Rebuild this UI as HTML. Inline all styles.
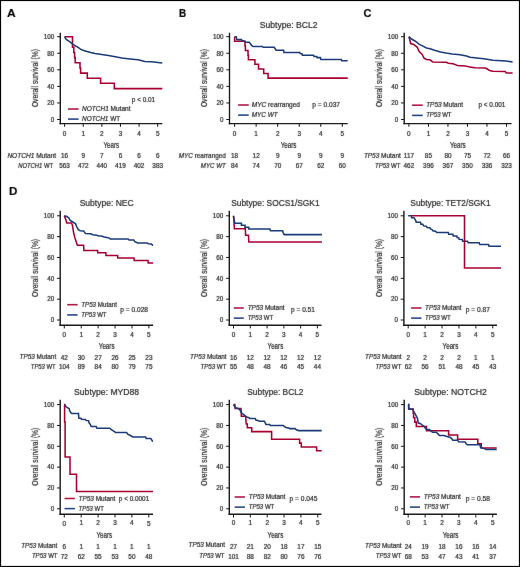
<!DOCTYPE html>
<html><head><meta charset="utf-8"><style>
html,body{margin:0;padding:0;background:#fff;}
body{width:520px;height:567px;overflow:hidden;}
svg{display:block;font-family:"Liberation Sans", sans-serif;fill:#262626;} text{stroke:#262626;stroke-width:0.2;}
</style></head><body>
<svg width="520" height="567" viewBox="0 0 520 567">
<defs><filter id="b" filterUnits="userSpaceOnUse" x="0" y="0" width="520" height="567"><feConvolveMatrix order="3" kernelMatrix="0.0000 0.0000 0.0000 0.0000 1.0000 0.0000 0.0000 0.0000 0.0000" preserveAlpha="false"/></filter><filter id="t" filterUnits="userSpaceOnUse" x="0" y="0" width="520" height="567"><feConvolveMatrix order="3" kernelMatrix="0.0150 0.0350 0.0150 0.0350 0.8000 0.0350 0.0150 0.0350 0.0150" preserveAlpha="false"/></filter></defs>
<rect x="0" y="0" width="520" height="567" fill="#fff"/>
<g filter="url(#b)">
<line x1="60.3" y1="32.8" x2="60.3" y2="124.3" stroke="#1a1a1a" stroke-width="1.4"/>
<line x1="59.6" y1="123.6" x2="162.3" y2="123.6" stroke="#1a1a1a" stroke-width="1.4"/>
<line x1="57.1" y1="119.5" x2="60.3" y2="119.5" stroke="#1a1a1a" stroke-width="1.0"/>
<line x1="57.1" y1="102.94" x2="60.3" y2="102.94" stroke="#1a1a1a" stroke-width="1.0"/>
<line x1="57.1" y1="86.38" x2="60.3" y2="86.38" stroke="#1a1a1a" stroke-width="1.0"/>
<line x1="57.1" y1="69.82" x2="60.3" y2="69.82" stroke="#1a1a1a" stroke-width="1.0"/>
<line x1="57.1" y1="53.26" x2="60.3" y2="53.26" stroke="#1a1a1a" stroke-width="1.0"/>
<line x1="57.1" y1="36.7" x2="60.3" y2="36.7" stroke="#1a1a1a" stroke-width="1.0"/>
<line x1="64.6" y1="123.6" x2="64.6" y2="126.8" stroke="#1a1a1a" stroke-width="1.0"/>
<line x1="83.22" y1="123.6" x2="83.22" y2="126.8" stroke="#1a1a1a" stroke-width="1.0"/>
<line x1="101.84" y1="123.6" x2="101.84" y2="126.8" stroke="#1a1a1a" stroke-width="1.0"/>
<line x1="120.46" y1="123.6" x2="120.46" y2="126.8" stroke="#1a1a1a" stroke-width="1.0"/>
<line x1="139.08" y1="123.6" x2="139.08" y2="126.8" stroke="#1a1a1a" stroke-width="1.0"/>
<line x1="157.7" y1="123.6" x2="157.7" y2="126.8" stroke="#1a1a1a" stroke-width="1.0"/>
<path d="M64.6 36.7 L72.5 36.7 L72.5 47.1 L73.8 47.1 L73.8 52.4 L74.6 52.4 L74.6 57.6 L75.2 57.6 L75.2 62.8 L80 62.8 L80 67.9 L80.6 67.9 L80.6 73.1 L87.3 73.1 L87.3 78.3 L100.6 78.3 L100.6 83.3 L114.3 83.3 L114.3 88.6 L162.3 88.6" stroke="#a80631" stroke-width="1.55" fill="none" stroke-linejoin="miter" stroke-linecap="butt"/>
<path d="M64.6 36.7 L65.2 37.8 L66.2 39.4 L67.7 40.4 L70 41.9 L72.3 43.8 L75.4 45.8 L78.5 47.7 L80.8 49.4 L83 50.3 L87 51.5 L90.8 52.6 L95 53.5 L101.7 54.4 L108.5 55.5 L115.2 56.8 L121.9 58.1 L130 58.9 L138.1 59.8 L144.8 61.4 L151.5 61.8 L162.3 63" stroke="#1b3a7a" stroke-width="1.55" fill="none" stroke-linejoin="miter" stroke-linecap="butt"/>
<line x1="68" y1="109" x2="78.6" y2="109" stroke="#b31a45" stroke-width="1.6"/>
<line x1="68" y1="119.1" x2="78.6" y2="119.1" stroke="#284a8c" stroke-width="1.6"/>
<line x1="229.5" y1="32.8" x2="229.5" y2="124.3" stroke="#1a1a1a" stroke-width="1.4"/>
<line x1="228.8" y1="123.6" x2="347.7" y2="123.6" stroke="#1a1a1a" stroke-width="1.4"/>
<line x1="226.3" y1="119.5" x2="229.5" y2="119.5" stroke="#1a1a1a" stroke-width="1.0"/>
<line x1="226.3" y1="102.94" x2="229.5" y2="102.94" stroke="#1a1a1a" stroke-width="1.0"/>
<line x1="226.3" y1="86.38" x2="229.5" y2="86.38" stroke="#1a1a1a" stroke-width="1.0"/>
<line x1="226.3" y1="69.82" x2="229.5" y2="69.82" stroke="#1a1a1a" stroke-width="1.0"/>
<line x1="226.3" y1="53.26" x2="229.5" y2="53.26" stroke="#1a1a1a" stroke-width="1.0"/>
<line x1="226.3" y1="36.7" x2="229.5" y2="36.7" stroke="#1a1a1a" stroke-width="1.0"/>
<line x1="234.6" y1="123.6" x2="234.6" y2="126.8" stroke="#1a1a1a" stroke-width="1.0"/>
<line x1="256.14" y1="123.6" x2="256.14" y2="126.8" stroke="#1a1a1a" stroke-width="1.0"/>
<line x1="277.68" y1="123.6" x2="277.68" y2="126.8" stroke="#1a1a1a" stroke-width="1.0"/>
<line x1="299.22" y1="123.6" x2="299.22" y2="126.8" stroke="#1a1a1a" stroke-width="1.0"/>
<line x1="320.76" y1="123.6" x2="320.76" y2="126.8" stroke="#1a1a1a" stroke-width="1.0"/>
<line x1="342.3" y1="123.6" x2="342.3" y2="126.8" stroke="#1a1a1a" stroke-width="1.0"/>
<path d="M234.6 36.7 L234.6 36.7 L234.6 41.3 L245 41.3 L245 45.9 L245.4 45.9 L245.4 50.5 L248 50.5 L248 55.1 L248.4 55.1 L248.4 59.7 L254.9 59.7 L254.9 64.3 L258.5 64.3 L258.5 68.9 L263.7 68.9 L263.7 73.5 L268.1 73.5 L268.1 78.1 L347.7 78.1" stroke="#a80631" stroke-width="1.55" fill="none" stroke-linejoin="miter" stroke-linecap="butt"/>
<path d="M234.6 36.7 L236.3 36.7 L236.6 39.4 L237.5 39.6 L241.5 39.6 L242 40.4 L244.4 41.1 L245.9 42.3 L249.2 42.3 L250.2 43.5 L251.6 45.4 L253.1 46.5 L262.2 46.5 L263.2 47.3 L274.2 47.3 L275.2 48.8 L276.2 50.3 L283.6 50.3 L284 52.4 L299.8 52.4 L300.2 53.6 L302 53.8 L302.4 55.2 L313.6 55.2 L314 56.4 L316.8 56.4 L317.2 57.6 L320.4 57.6 L320.8 59.4 L341.3 59.4 L341.7 60.7 L347.7 60.7" stroke="#1b3a7a" stroke-width="1.55" fill="none" stroke-linejoin="miter" stroke-linecap="butt"/>
<line x1="238.1" y1="105" x2="248.75" y2="105" stroke="#b31a45" stroke-width="1.6"/>
<line x1="238.1" y1="115.1" x2="248.75" y2="115.1" stroke="#284a8c" stroke-width="1.6"/>
<line x1="404.2" y1="32.8" x2="404.2" y2="124.3" stroke="#1a1a1a" stroke-width="1.4"/>
<line x1="403.5" y1="123.6" x2="511.5" y2="123.6" stroke="#1a1a1a" stroke-width="1.4"/>
<line x1="401" y1="119.5" x2="404.2" y2="119.5" stroke="#1a1a1a" stroke-width="1.0"/>
<line x1="401" y1="102.94" x2="404.2" y2="102.94" stroke="#1a1a1a" stroke-width="1.0"/>
<line x1="401" y1="86.38" x2="404.2" y2="86.38" stroke="#1a1a1a" stroke-width="1.0"/>
<line x1="401" y1="69.82" x2="404.2" y2="69.82" stroke="#1a1a1a" stroke-width="1.0"/>
<line x1="401" y1="53.26" x2="404.2" y2="53.26" stroke="#1a1a1a" stroke-width="1.0"/>
<line x1="401" y1="36.7" x2="404.2" y2="36.7" stroke="#1a1a1a" stroke-width="1.0"/>
<line x1="408.9" y1="123.6" x2="408.9" y2="126.8" stroke="#1a1a1a" stroke-width="1.0"/>
<line x1="428.42" y1="123.6" x2="428.42" y2="126.8" stroke="#1a1a1a" stroke-width="1.0"/>
<line x1="447.94" y1="123.6" x2="447.94" y2="126.8" stroke="#1a1a1a" stroke-width="1.0"/>
<line x1="467.46" y1="123.6" x2="467.46" y2="126.8" stroke="#1a1a1a" stroke-width="1.0"/>
<line x1="486.98" y1="123.6" x2="486.98" y2="126.8" stroke="#1a1a1a" stroke-width="1.0"/>
<line x1="506.5" y1="123.6" x2="506.5" y2="126.8" stroke="#1a1a1a" stroke-width="1.0"/>
<path d="M408.9 36.7 L409.8 39.8 L410.6 43.6 L413.8 44.4 L417.3 47.3 L419 51.3 L422 54.2 L424.2 58.3 L426.5 59.4 L430 59.8 L432.9 62.1 L446.2 62.3 L448.5 63.2 L453 63.7 L455 64.4 L457.3 65.5 L465.4 66 L470 66.9 L474.6 67.8 L485.6 68.1 L489.6 70.4 L493 71.2 L505.2 71.5 L506.3 73 L512.6 73" stroke="#a80631" stroke-width="1.55" fill="none" stroke-linejoin="miter" stroke-linecap="butt"/>
<path d="M408.9 36.7 L411.5 39 L415 41 L419 44.1 L422.5 45.9 L426.5 47.9 L430 48.7 L434.6 50.2 L440.4 51.9 L446.2 53.1 L452 54 L455 54.2 L460 54.8 L466.5 56 L470 57.3 L483.8 58.8 L493 60.2 L505.8 60.9 L512.6 62.1" stroke="#1b3a7a" stroke-width="1.55" fill="none" stroke-linejoin="miter" stroke-linecap="butt"/>
<line x1="412.1" y1="105.2" x2="422.75" y2="105.2" stroke="#b31a45" stroke-width="1.6"/>
<line x1="412.1" y1="115.4" x2="422.75" y2="115.4" stroke="#284a8c" stroke-width="1.6"/>
<line x1="60.2" y1="210.8" x2="60.2" y2="325.9" stroke="#1a1a1a" stroke-width="1.4"/>
<line x1="59.5" y1="325.2" x2="153.1" y2="325.2" stroke="#1a1a1a" stroke-width="1.4"/>
<line x1="57" y1="320" x2="60.2" y2="320" stroke="#1a1a1a" stroke-width="1.0"/>
<line x1="57" y1="299.16" x2="60.2" y2="299.16" stroke="#1a1a1a" stroke-width="1.0"/>
<line x1="57" y1="278.32" x2="60.2" y2="278.32" stroke="#1a1a1a" stroke-width="1.0"/>
<line x1="57" y1="257.48" x2="60.2" y2="257.48" stroke="#1a1a1a" stroke-width="1.0"/>
<line x1="57" y1="236.64" x2="60.2" y2="236.64" stroke="#1a1a1a" stroke-width="1.0"/>
<line x1="57" y1="215.8" x2="60.2" y2="215.8" stroke="#1a1a1a" stroke-width="1.0"/>
<line x1="64.3" y1="325.2" x2="64.3" y2="328.4" stroke="#1a1a1a" stroke-width="1.0"/>
<line x1="81.22" y1="325.2" x2="81.22" y2="328.4" stroke="#1a1a1a" stroke-width="1.0"/>
<line x1="98.14" y1="325.2" x2="98.14" y2="328.4" stroke="#1a1a1a" stroke-width="1.0"/>
<line x1="115.06" y1="325.2" x2="115.06" y2="328.4" stroke="#1a1a1a" stroke-width="1.0"/>
<line x1="131.98" y1="325.2" x2="131.98" y2="328.4" stroke="#1a1a1a" stroke-width="1.0"/>
<line x1="148.9" y1="325.2" x2="148.9" y2="328.4" stroke="#1a1a1a" stroke-width="1.0"/>
<path d="M64.3 215.8 L65.8 219.6 L66.7 223 L71.5 223 L72.5 225.4 L73.5 232.1 L74.9 237.9 L77.3 245.3 L83.6 245.3 L83.9 250.4 L97.6 250.4 L97.8 252.8 L105.8 252.8 L106 255.4 L117.6 255.4 L117.8 258 L134 258 L134.2 260.4 L148 260.4 L148.2 262.9 L153.1 262.9" stroke="#a80631" stroke-width="1.55" fill="none" stroke-linejoin="miter" stroke-linecap="butt"/>
<path d="M64.3 215.8 L65.3 216 L67.2 216.7 L69.1 218.2 L70.1 220.4 L72 221.5 L73.5 222.5 L75.4 223.5 L76.8 226.8 L78.3 229.7 L80.2 230.7 L83.6 231 L85.5 233.6 L90.8 233.8 L92.7 234.8 L96.5 235.2 L98.5 235.8 L102.3 236.2 L104.2 236.9 L106.9 237.5 L109.3 238.1 L110.3 238.9 L128.1 238.9 L129 239.9 L133.8 239.9 L134.8 241.6 L137.7 242.9 L147.3 242.9 L148.3 243.8 L151.2 244 L152.6 245.2 L153.1 245.2" stroke="#1b3a7a" stroke-width="1.55" fill="none" stroke-linejoin="miter" stroke-linecap="butt"/>
<line x1="67.2" y1="304.7" x2="77.6" y2="304.7" stroke="#b31a45" stroke-width="1.6"/>
<line x1="67.2" y1="314.9" x2="77.6" y2="314.9" stroke="#284a8c" stroke-width="1.6"/>
<line x1="229.3" y1="210.8" x2="229.3" y2="325.9" stroke="#1a1a1a" stroke-width="1.4"/>
<line x1="228.6" y1="325.2" x2="321.5" y2="325.2" stroke="#1a1a1a" stroke-width="1.4"/>
<line x1="226.1" y1="320" x2="229.3" y2="320" stroke="#1a1a1a" stroke-width="1.0"/>
<line x1="226.1" y1="299.16" x2="229.3" y2="299.16" stroke="#1a1a1a" stroke-width="1.0"/>
<line x1="226.1" y1="278.32" x2="229.3" y2="278.32" stroke="#1a1a1a" stroke-width="1.0"/>
<line x1="226.1" y1="257.48" x2="229.3" y2="257.48" stroke="#1a1a1a" stroke-width="1.0"/>
<line x1="226.1" y1="236.64" x2="229.3" y2="236.64" stroke="#1a1a1a" stroke-width="1.0"/>
<line x1="226.1" y1="215.8" x2="229.3" y2="215.8" stroke="#1a1a1a" stroke-width="1.0"/>
<line x1="233.5" y1="325.2" x2="233.5" y2="328.4" stroke="#1a1a1a" stroke-width="1.0"/>
<line x1="250.28" y1="325.2" x2="250.28" y2="328.4" stroke="#1a1a1a" stroke-width="1.0"/>
<line x1="267.06" y1="325.2" x2="267.06" y2="328.4" stroke="#1a1a1a" stroke-width="1.0"/>
<line x1="283.84" y1="325.2" x2="283.84" y2="328.4" stroke="#1a1a1a" stroke-width="1.0"/>
<line x1="300.62" y1="325.2" x2="300.62" y2="328.4" stroke="#1a1a1a" stroke-width="1.0"/>
<line x1="317.4" y1="325.2" x2="317.4" y2="328.4" stroke="#1a1a1a" stroke-width="1.0"/>
<path d="M233.5 215.8 L234 222.7 L234.4 228.8 L245.3 228.8 L245.6 235.3 L248.5 235.3 L248.8 241.9 L321.9 241.9" stroke="#a80631" stroke-width="1.55" fill="none" stroke-linejoin="miter" stroke-linecap="butt"/>
<path d="M233.5 215.8 L234 219.2 L234.8 223.3 L241.4 223.3 L241.4 225.3 L245 225.3 L245 227.2 L248.7 227.2 L248.7 228.9 L269.9 228.9 L270.5 230.8 L282.6 230.8 L283.2 232.6 L284.2 234.6 L321.9 234.6" stroke="#1b3a7a" stroke-width="1.55" fill="none" stroke-linejoin="miter" stroke-linecap="butt"/>
<line x1="233.8" y1="308" x2="243.8" y2="308" stroke="#b31a45" stroke-width="1.6"/>
<line x1="233.8" y1="318.1" x2="243.8" y2="318.1" stroke="#284a8c" stroke-width="1.6"/>
<line x1="403.9" y1="210.8" x2="403.9" y2="325.9" stroke="#1a1a1a" stroke-width="1.4"/>
<line x1="403.2" y1="325.2" x2="497" y2="325.2" stroke="#1a1a1a" stroke-width="1.4"/>
<line x1="400.7" y1="320" x2="403.9" y2="320" stroke="#1a1a1a" stroke-width="1.0"/>
<line x1="400.7" y1="299.16" x2="403.9" y2="299.16" stroke="#1a1a1a" stroke-width="1.0"/>
<line x1="400.7" y1="278.32" x2="403.9" y2="278.32" stroke="#1a1a1a" stroke-width="1.0"/>
<line x1="400.7" y1="257.48" x2="403.9" y2="257.48" stroke="#1a1a1a" stroke-width="1.0"/>
<line x1="400.7" y1="236.64" x2="403.9" y2="236.64" stroke="#1a1a1a" stroke-width="1.0"/>
<line x1="400.7" y1="215.8" x2="403.9" y2="215.8" stroke="#1a1a1a" stroke-width="1.0"/>
<line x1="408.2" y1="325.2" x2="408.2" y2="328.4" stroke="#1a1a1a" stroke-width="1.0"/>
<line x1="425.12" y1="325.2" x2="425.12" y2="328.4" stroke="#1a1a1a" stroke-width="1.0"/>
<line x1="442.04" y1="325.2" x2="442.04" y2="328.4" stroke="#1a1a1a" stroke-width="1.0"/>
<line x1="458.96" y1="325.2" x2="458.96" y2="328.4" stroke="#1a1a1a" stroke-width="1.0"/>
<line x1="475.88" y1="325.2" x2="475.88" y2="328.4" stroke="#1a1a1a" stroke-width="1.0"/>
<line x1="492.8" y1="325.2" x2="492.8" y2="328.4" stroke="#1a1a1a" stroke-width="1.0"/>
<path d="M408.2 215.8 L411.3 215.8 L411.7 217.7 L414 217.7 L415.5 220 L416.3 222.3 L420.5 222.3 L420.9 224.2 L422.8 224.2 L423.6 225.9 L426.3 226.2 L427.1 227.4 L429.8 227.7 L430.5 228.9 L432.1 229.6 L432.8 230.8 L435.5 231.2 L436.7 232.4 L448.3 232.4 L448.7 234.3 L452.9 234.3 L453.3 236 L456.8 236 L457.2 237.5 L458.7 237.8 L459.1 239.3 L462.2 239.5 L462.8 241.2 L467.5 241.2 L468.3 242.8 L479.2 242.8 L479.8 244.5 L488.5 244.5 L489 246.2 L501 246.2" stroke="#1b3a7a" stroke-width="1.55" fill="none" stroke-linejoin="miter" stroke-linecap="butt"/>
<path d="M411 215.8 L464.5 215.8 L464.5 267.9 L501 267.9" stroke="#a80631" stroke-width="1.55" fill="none" stroke-linejoin="miter" stroke-linecap="butt"/>
<line x1="411.1" y1="308" x2="421.5" y2="308" stroke="#b31a45" stroke-width="1.6"/>
<line x1="411.1" y1="318.1" x2="421.5" y2="318.1" stroke="#284a8c" stroke-width="1.6"/>
<line x1="60.2" y1="399.8" x2="60.2" y2="515" stroke="#1a1a1a" stroke-width="1.4"/>
<line x1="59.5" y1="514.3" x2="153" y2="514.3" stroke="#1a1a1a" stroke-width="1.4"/>
<line x1="57" y1="508.8" x2="60.2" y2="508.8" stroke="#1a1a1a" stroke-width="1.0"/>
<line x1="57" y1="487.96" x2="60.2" y2="487.96" stroke="#1a1a1a" stroke-width="1.0"/>
<line x1="57" y1="467.12" x2="60.2" y2="467.12" stroke="#1a1a1a" stroke-width="1.0"/>
<line x1="57" y1="446.28" x2="60.2" y2="446.28" stroke="#1a1a1a" stroke-width="1.0"/>
<line x1="57" y1="425.44" x2="60.2" y2="425.44" stroke="#1a1a1a" stroke-width="1.0"/>
<line x1="57" y1="404.6" x2="60.2" y2="404.6" stroke="#1a1a1a" stroke-width="1.0"/>
<line x1="64.3" y1="514.3" x2="64.3" y2="517.5" stroke="#1a1a1a" stroke-width="1.0"/>
<line x1="81.2" y1="514.3" x2="81.2" y2="517.5" stroke="#1a1a1a" stroke-width="1.0"/>
<line x1="98.1" y1="514.3" x2="98.1" y2="517.5" stroke="#1a1a1a" stroke-width="1.0"/>
<line x1="115" y1="514.3" x2="115" y2="517.5" stroke="#1a1a1a" stroke-width="1.0"/>
<line x1="131.9" y1="514.3" x2="131.9" y2="517.5" stroke="#1a1a1a" stroke-width="1.0"/>
<line x1="148.8" y1="514.3" x2="148.8" y2="517.5" stroke="#1a1a1a" stroke-width="1.0"/>
<path d="M64.3 404.6 L64.6 404.6 L64.6 421.9 L65.1 421.9 L65.1 456.9 L70 456.9 L70 474.2 L76.5 474.2 L76.5 491.5 L153 491.5" stroke="#a80631" stroke-width="1.55" fill="none" stroke-linejoin="miter" stroke-linecap="butt"/>
<path d="M64.3 404.6 L65 404.8 L65.8 406.5 L67.3 407.7 L69.2 408.5 L69.6 410.8 L71.5 413.4 L78.5 413.4 L78.8 418.1 L81.2 418.5 L81.5 419.2 L85.4 419.4 L86.2 420.4 L88.5 420.8 L89.2 423.1 L90.4 424.6 L91.2 426.5 L96.2 426.5 L96.9 428.2 L109.8 428.2 L111 429.5 L113.3 430.9 L115.6 432.4 L126.6 432.4 L127.7 434.2 L130 435.3 L132.9 437 L145.6 437 L146.2 438.5 L150.8 438.5 L152.5 441.1 L153 441.3" stroke="#1b3a7a" stroke-width="1.55" fill="none" stroke-linejoin="miter" stroke-linecap="butt"/>
<line x1="64.5" y1="498.5" x2="74.9" y2="498.5" stroke="#b31a45" stroke-width="1.6"/>
<line x1="64.5" y1="508.6" x2="74.9" y2="508.6" stroke="#284a8c" stroke-width="1.6"/>
<line x1="229.3" y1="399.8" x2="229.3" y2="515" stroke="#1a1a1a" stroke-width="1.4"/>
<line x1="228.6" y1="514.3" x2="321.5" y2="514.3" stroke="#1a1a1a" stroke-width="1.4"/>
<line x1="226.1" y1="508.8" x2="229.3" y2="508.8" stroke="#1a1a1a" stroke-width="1.0"/>
<line x1="226.1" y1="487.96" x2="229.3" y2="487.96" stroke="#1a1a1a" stroke-width="1.0"/>
<line x1="226.1" y1="467.12" x2="229.3" y2="467.12" stroke="#1a1a1a" stroke-width="1.0"/>
<line x1="226.1" y1="446.28" x2="229.3" y2="446.28" stroke="#1a1a1a" stroke-width="1.0"/>
<line x1="226.1" y1="425.44" x2="229.3" y2="425.44" stroke="#1a1a1a" stroke-width="1.0"/>
<line x1="226.1" y1="404.6" x2="229.3" y2="404.6" stroke="#1a1a1a" stroke-width="1.0"/>
<line x1="233.5" y1="514.3" x2="233.5" y2="517.5" stroke="#1a1a1a" stroke-width="1.0"/>
<line x1="250.35" y1="514.3" x2="250.35" y2="517.5" stroke="#1a1a1a" stroke-width="1.0"/>
<line x1="267.2" y1="514.3" x2="267.2" y2="517.5" stroke="#1a1a1a" stroke-width="1.0"/>
<line x1="284.05" y1="514.3" x2="284.05" y2="517.5" stroke="#1a1a1a" stroke-width="1.0"/>
<line x1="300.9" y1="514.3" x2="300.9" y2="517.5" stroke="#1a1a1a" stroke-width="1.0"/>
<line x1="317.75" y1="514.3" x2="317.75" y2="517.5" stroke="#1a1a1a" stroke-width="1.0"/>
<path d="M233.5 404.6 L234.9 404.6 L235.1 408.5 L241 408.5 L241.3 412.3 L241.3 416.2 L245.7 416.2 L245.9 420 L246.3 423.9 L247.3 423.9 L247.3 427.7 L251.7 427.7 L251.7 431.6 L271.6 431.6 L271.6 439.3 L299.6 439.3 L299.6 443.1 L301.3 443.1 L301.3 447 L316.6 447 L316.6 450.8 L321.7 450.8" stroke="#a80631" stroke-width="1.55" fill="none" stroke-linejoin="miter" stroke-linecap="butt"/>
<path d="M233.5 404.6 L235.2 407.3 L236.3 408.1 L238.2 408.5 L239.8 409.6 L240.5 411.2 L241.7 413.1 L243.2 414.2 L244.4 415 L245.5 416.5 L247.5 417.3 L249 417.7 L249.8 418.5 L255.2 418.5 L255.9 420 L257.8 420.4 L259.4 421.2 L264.4 421.2 L265.2 422.7 L265.9 424.5 L269.5 424.5 L270.4 425.4 L283.1 425.4 L284.2 426.3 L286 427.5 L288.8 427.9 L289.8 428.6 L295.2 428.6 L296.3 429.8 L298.7 430.6 L321.7 430.6" stroke="#1b3a7a" stroke-width="1.55" fill="none" stroke-linejoin="miter" stroke-linecap="butt"/>
<line x1="234.7" y1="497" x2="244.9" y2="497" stroke="#b31a45" stroke-width="1.6"/>
<line x1="234.7" y1="507.1" x2="244.9" y2="507.1" stroke="#284a8c" stroke-width="1.6"/>
<line x1="404.2" y1="399.8" x2="404.2" y2="515" stroke="#1a1a1a" stroke-width="1.4"/>
<line x1="403.5" y1="514.3" x2="496.9" y2="514.3" stroke="#1a1a1a" stroke-width="1.4"/>
<line x1="401" y1="508.8" x2="404.2" y2="508.8" stroke="#1a1a1a" stroke-width="1.0"/>
<line x1="401" y1="487.96" x2="404.2" y2="487.96" stroke="#1a1a1a" stroke-width="1.0"/>
<line x1="401" y1="467.12" x2="404.2" y2="467.12" stroke="#1a1a1a" stroke-width="1.0"/>
<line x1="401" y1="446.28" x2="404.2" y2="446.28" stroke="#1a1a1a" stroke-width="1.0"/>
<line x1="401" y1="425.44" x2="404.2" y2="425.44" stroke="#1a1a1a" stroke-width="1.0"/>
<line x1="401" y1="404.6" x2="404.2" y2="404.6" stroke="#1a1a1a" stroke-width="1.0"/>
<line x1="408.2" y1="514.3" x2="408.2" y2="517.5" stroke="#1a1a1a" stroke-width="1.0"/>
<line x1="425.1" y1="514.3" x2="425.1" y2="517.5" stroke="#1a1a1a" stroke-width="1.0"/>
<line x1="442" y1="514.3" x2="442" y2="517.5" stroke="#1a1a1a" stroke-width="1.0"/>
<line x1="458.9" y1="514.3" x2="458.9" y2="517.5" stroke="#1a1a1a" stroke-width="1.0"/>
<line x1="475.8" y1="514.3" x2="475.8" y2="517.5" stroke="#1a1a1a" stroke-width="1.0"/>
<line x1="492.7" y1="514.3" x2="492.7" y2="517.5" stroke="#1a1a1a" stroke-width="1.0"/>
<path d="M408.2 404.6 L408.6 404.6 L408.6 409 L413.2 409 L413.2 413.3 L413.6 413.3 L413.6 417.8 L414.8 417.8 L414.8 422.1 L416.3 422.1 L416.3 426.4 L426.4 426.4 L426.4 430.7 L448.6 430.7 L448.6 435 L457.6 435 L457.6 439.3 L477.8 439.3 L477.8 443.7 L481.3 443.7 L481.3 448 L496.7 448" stroke="#a80631" stroke-width="1.55" fill="none" stroke-linejoin="miter" stroke-linecap="butt"/>
<path d="M408.2 404.6 L408.6 404.6 L409 409.2 L412.5 409.2 L415.5 414.6 L417.5 418.5 L418.2 423.1 L420.2 423.5 L421.7 424.6 L424 426.2 L425.5 428.5 L427 429.6 L429.4 429.6 L432.5 432.3 L436.3 432.3 L439.4 435.4 L444 435.4 L446.2 436.2 L450 437.3 L451.7 438.5 L452.9 440.2 L457.5 440.2 L458.7 441.7 L465 441.9 L466.2 443.7 L467.3 444.8 L480 444.8 L480.6 447.7 L484.6 448.6 L485.8 449.4 L496.7 449.4" stroke="#1b3a7a" stroke-width="1.55" fill="none" stroke-linejoin="miter" stroke-linecap="butt"/>
<line x1="409.9" y1="496.9" x2="420" y2="496.9" stroke="#b31a45" stroke-width="1.6"/>
<line x1="409.9" y1="507.1" x2="420" y2="507.1" stroke="#284a8c" stroke-width="1.6"/>
</g>
<g filter="url(#t)">
<text x="54.3" y="121.77" font-size="6.3" text-anchor="end">0</text>
<text x="54.3" y="105.21" font-size="6.3" text-anchor="end">20</text>
<text x="54.3" y="88.65" font-size="6.3" text-anchor="end">40</text>
<text x="54.3" y="72.09" font-size="6.3" text-anchor="end">60</text>
<text x="54.3" y="55.53" font-size="6.3" text-anchor="end">80</text>
<text x="54.3" y="38.97" font-size="6.3" text-anchor="end">100</text>
<text x="64.6" y="135.6" font-size="6.4" text-anchor="middle">0</text>
<text x="83.22" y="135.6" font-size="6.4" text-anchor="middle">1</text>
<text x="101.84" y="135.6" font-size="6.4" text-anchor="middle">2</text>
<text x="120.46" y="135.6" font-size="6.4" text-anchor="middle">3</text>
<text x="139.08" y="135.6" font-size="6.4" text-anchor="middle">4</text>
<text x="157.7" y="135.6" font-size="6.4" text-anchor="middle">5</text>
<text x="111.3" y="148.09" font-size="8.3" text-anchor="middle" textLength="15.7" lengthAdjust="spacingAndGlyphs">Years</text>
<text x="0" y="0" font-size="8.8" text-anchor="middle" textLength="58" lengthAdjust="spacingAndGlyphs" transform="translate(38.2 78.1) rotate(-90)">Overall survival (%)</text>
<text x="82" y="111.18" font-size="6.6" textLength="48.5" lengthAdjust="spacingAndGlyphs"><tspan font-style="italic">NOTCH1</tspan> Mutant</text>
<text x="82" y="121.28" font-size="6.6" textLength="38.2" lengthAdjust="spacingAndGlyphs"><tspan font-style="italic">NOTCH1</tspan> WT</text>
<text x="131.8" y="101.7" font-size="6.4" textLength="23.3" lengthAdjust="spacingAndGlyphs">p &lt; 0.01</text>
<text x="56.2" y="157.88" font-size="6.6" text-anchor="end" textLength="48.8" lengthAdjust="spacingAndGlyphs"><tspan font-style="italic">NOTCH1</tspan> Mutant</text>
<text x="53" y="167.88" font-size="6.6" text-anchor="end" textLength="34.8" lengthAdjust="spacingAndGlyphs"><tspan font-style="italic">NOTCH1</tspan> WT</text>
<text x="64.6" y="158.3" font-size="6.4" text-anchor="middle">16</text>
<text x="83.22" y="158.3" font-size="6.4" text-anchor="middle">9</text>
<text x="101.84" y="158.3" font-size="6.4" text-anchor="middle">7</text>
<text x="120.46" y="158.3" font-size="6.4" text-anchor="middle">6</text>
<text x="139.08" y="158.3" font-size="6.4" text-anchor="middle">6</text>
<text x="157.7" y="158.3" font-size="6.4" text-anchor="middle">6</text>
<text x="64.6" y="168.3" font-size="6.4" text-anchor="middle">563</text>
<text x="83.22" y="168.3" font-size="6.4" text-anchor="middle">472</text>
<text x="101.84" y="168.3" font-size="6.4" text-anchor="middle">440</text>
<text x="120.46" y="168.3" font-size="6.4" text-anchor="middle">419</text>
<text x="139.08" y="168.3" font-size="6.4" text-anchor="middle">402</text>
<text x="157.7" y="168.3" font-size="6.4" text-anchor="middle">383</text>
<text x="223.5" y="121.77" font-size="6.3" text-anchor="end">0</text>
<text x="223.5" y="105.21" font-size="6.3" text-anchor="end">20</text>
<text x="223.5" y="88.65" font-size="6.3" text-anchor="end">40</text>
<text x="223.5" y="72.09" font-size="6.3" text-anchor="end">60</text>
<text x="223.5" y="55.53" font-size="6.3" text-anchor="end">80</text>
<text x="223.5" y="38.97" font-size="6.3" text-anchor="end">100</text>
<text x="234.6" y="135.6" font-size="6.4" text-anchor="middle">0</text>
<text x="256.14" y="135.6" font-size="6.4" text-anchor="middle">1</text>
<text x="277.68" y="135.6" font-size="6.4" text-anchor="middle">2</text>
<text x="299.22" y="135.6" font-size="6.4" text-anchor="middle">3</text>
<text x="320.76" y="135.6" font-size="6.4" text-anchor="middle">4</text>
<text x="342.3" y="135.6" font-size="6.4" text-anchor="middle">5</text>
<text x="288.6" y="148.09" font-size="8.3" text-anchor="middle" textLength="15.7" lengthAdjust="spacingAndGlyphs">Years</text>
<text x="0" y="0" font-size="8.8" text-anchor="middle" textLength="58" lengthAdjust="spacingAndGlyphs" transform="translate(207.4 78.1) rotate(-90)">Overall survival (%)</text>
<text x="288.6" y="28.1" font-size="9" text-anchor="middle" textLength="57.7" lengthAdjust="spacingAndGlyphs">Subtype: BCL2</text>
<text x="251.8" y="107.28" font-size="6.6" textLength="48.2" lengthAdjust="spacingAndGlyphs"><tspan font-style="italic">MYC</tspan> rearranged</text>
<text x="251.8" y="117.28" font-size="6.6" textLength="25.9" lengthAdjust="spacingAndGlyphs"><tspan font-style="italic">MYC WT</tspan></text>
<text x="312.3" y="107.2" font-size="6.4" textLength="27.7" lengthAdjust="spacingAndGlyphs">p = 0.037</text>
<text x="225.8" y="157.88" font-size="6.6" text-anchor="end" textLength="47" lengthAdjust="spacingAndGlyphs"><tspan font-style="italic">MYC</tspan> rearranged</text>
<text x="225.8" y="167.88" font-size="6.6" text-anchor="end" textLength="25" lengthAdjust="spacingAndGlyphs"><tspan font-style="italic">MYC WT</tspan></text>
<text x="234.6" y="158.3" font-size="6.4" text-anchor="middle">18</text>
<text x="256.14" y="158.3" font-size="6.4" text-anchor="middle">12</text>
<text x="277.68" y="158.3" font-size="6.4" text-anchor="middle">9</text>
<text x="299.22" y="158.3" font-size="6.4" text-anchor="middle">9</text>
<text x="320.76" y="158.3" font-size="6.4" text-anchor="middle">9</text>
<text x="342.3" y="158.3" font-size="6.4" text-anchor="middle">9</text>
<text x="234.6" y="168.3" font-size="6.4" text-anchor="middle">84</text>
<text x="256.14" y="168.3" font-size="6.4" text-anchor="middle">74</text>
<text x="277.68" y="168.3" font-size="6.4" text-anchor="middle">70</text>
<text x="299.22" y="168.3" font-size="6.4" text-anchor="middle">67</text>
<text x="320.76" y="168.3" font-size="6.4" text-anchor="middle">62</text>
<text x="342.3" y="168.3" font-size="6.4" text-anchor="middle">60</text>
<text x="398.2" y="121.77" font-size="6.3" text-anchor="end">0</text>
<text x="398.2" y="105.21" font-size="6.3" text-anchor="end">20</text>
<text x="398.2" y="88.65" font-size="6.3" text-anchor="end">40</text>
<text x="398.2" y="72.09" font-size="6.3" text-anchor="end">60</text>
<text x="398.2" y="55.53" font-size="6.3" text-anchor="end">80</text>
<text x="398.2" y="38.97" font-size="6.3" text-anchor="end">100</text>
<text x="408.9" y="135.6" font-size="6.4" text-anchor="middle">0</text>
<text x="428.42" y="135.6" font-size="6.4" text-anchor="middle">1</text>
<text x="447.94" y="135.6" font-size="6.4" text-anchor="middle">2</text>
<text x="467.46" y="135.6" font-size="6.4" text-anchor="middle">3</text>
<text x="486.98" y="135.6" font-size="6.4" text-anchor="middle">4</text>
<text x="506.5" y="135.6" font-size="6.4" text-anchor="middle">5</text>
<text x="457.85" y="148.09" font-size="8.3" text-anchor="middle" textLength="15.7" lengthAdjust="spacingAndGlyphs">Years</text>
<text x="0" y="0" font-size="8.8" text-anchor="middle" textLength="58" lengthAdjust="spacingAndGlyphs" transform="translate(382.1 78.1) rotate(-90)">Overall survival (%)</text>
<text x="426.2" y="107.48" font-size="6.6" textLength="36.8" lengthAdjust="spacingAndGlyphs"><tspan font-style="italic">TP53</tspan> Mutant</text>
<text x="426.2" y="117.48" font-size="6.6" textLength="25.3" lengthAdjust="spacingAndGlyphs"><tspan font-style="italic">TP53</tspan> WT</text>
<text x="478.5" y="107.2" font-size="6.4" textLength="26.9" lengthAdjust="spacingAndGlyphs">p &lt; 0.001</text>
<text x="400.8" y="158.18" font-size="6.6" text-anchor="end" textLength="36.9" lengthAdjust="spacingAndGlyphs"><tspan font-style="italic">TP53</tspan> Mutant</text>
<text x="400.4" y="167.98" font-size="6.6" text-anchor="end" textLength="25.4" lengthAdjust="spacingAndGlyphs"><tspan font-style="italic">TP53</tspan> WT</text>
<text x="408.9" y="158.3" font-size="6.4" text-anchor="middle">117</text>
<text x="428.42" y="158.3" font-size="6.4" text-anchor="middle">85</text>
<text x="447.94" y="158.3" font-size="6.4" text-anchor="middle">80</text>
<text x="467.46" y="158.3" font-size="6.4" text-anchor="middle">75</text>
<text x="486.98" y="158.3" font-size="6.4" text-anchor="middle">72</text>
<text x="506.5" y="158.3" font-size="6.4" text-anchor="middle">66</text>
<text x="408.9" y="168.3" font-size="6.4" text-anchor="middle">462</text>
<text x="428.42" y="168.3" font-size="6.4" text-anchor="middle">396</text>
<text x="447.94" y="168.3" font-size="6.4" text-anchor="middle">367</text>
<text x="467.46" y="168.3" font-size="6.4" text-anchor="middle">350</text>
<text x="486.98" y="168.3" font-size="6.4" text-anchor="middle">336</text>
<text x="506.5" y="168.3" font-size="6.4" text-anchor="middle">323</text>
<text x="54.2" y="322.27" font-size="6.3" text-anchor="end">0</text>
<text x="54.2" y="301.43" font-size="6.3" text-anchor="end">20</text>
<text x="54.2" y="280.59" font-size="6.3" text-anchor="end">40</text>
<text x="54.2" y="259.75" font-size="6.3" text-anchor="end">60</text>
<text x="54.2" y="238.91" font-size="6.3" text-anchor="end">80</text>
<text x="54.2" y="218.07" font-size="6.3" text-anchor="end">100</text>
<text x="64.3" y="336.9" font-size="6.4" text-anchor="middle">0</text>
<text x="81.22" y="336.9" font-size="6.4" text-anchor="middle">1</text>
<text x="98.14" y="336.9" font-size="6.4" text-anchor="middle">2</text>
<text x="115.06" y="336.9" font-size="6.4" text-anchor="middle">3</text>
<text x="131.98" y="336.9" font-size="6.4" text-anchor="middle">4</text>
<text x="148.9" y="336.9" font-size="6.4" text-anchor="middle">5</text>
<text x="106.65" y="349.19" font-size="8.3" text-anchor="middle" textLength="15.7" lengthAdjust="spacingAndGlyphs">Years</text>
<text x="0" y="0" font-size="8.8" text-anchor="middle" textLength="58" lengthAdjust="spacingAndGlyphs" transform="translate(38.1 267.9) rotate(-90)">Overall survival (%)</text>
<text x="106.65" y="206.2" font-size="9" text-anchor="middle" textLength="53.9" lengthAdjust="spacingAndGlyphs">Subtype: NEC</text>
<text x="81.2" y="307.28" font-size="6.6" textLength="35.7" lengthAdjust="spacingAndGlyphs"><tspan font-style="italic">TP53</tspan> Mutant</text>
<text x="81.2" y="316.98" font-size="6.6" textLength="25.3" lengthAdjust="spacingAndGlyphs"><tspan font-style="italic">TP53</tspan> WT</text>
<text x="120.3" y="312" font-size="6.4" textLength="27.7" lengthAdjust="spacingAndGlyphs">p = 0.028</text>
<text x="56.2" y="359.38" font-size="6.6" text-anchor="end" textLength="36.7" lengthAdjust="spacingAndGlyphs"><tspan font-style="italic">TP53</tspan> Mutant</text>
<text x="55.7" y="369.38" font-size="6.6" text-anchor="end" textLength="24.9" lengthAdjust="spacingAndGlyphs"><tspan font-style="italic">TP53</tspan> WT</text>
<text x="64.3" y="359.8" font-size="6.4" text-anchor="middle">42</text>
<text x="81.22" y="359.8" font-size="6.4" text-anchor="middle">30</text>
<text x="98.14" y="359.8" font-size="6.4" text-anchor="middle">27</text>
<text x="115.06" y="359.8" font-size="6.4" text-anchor="middle">26</text>
<text x="131.98" y="359.8" font-size="6.4" text-anchor="middle">25</text>
<text x="148.9" y="359.8" font-size="6.4" text-anchor="middle">23</text>
<text x="64.3" y="369.4" font-size="6.4" text-anchor="middle">104</text>
<text x="81.22" y="369.4" font-size="6.4" text-anchor="middle">89</text>
<text x="98.14" y="369.4" font-size="6.4" text-anchor="middle">84</text>
<text x="115.06" y="369.4" font-size="6.4" text-anchor="middle">80</text>
<text x="131.98" y="369.4" font-size="6.4" text-anchor="middle">79</text>
<text x="148.9" y="369.4" font-size="6.4" text-anchor="middle">75</text>
<text x="223.3" y="322.27" font-size="6.3" text-anchor="end">0</text>
<text x="223.3" y="301.43" font-size="6.3" text-anchor="end">20</text>
<text x="223.3" y="280.59" font-size="6.3" text-anchor="end">40</text>
<text x="223.3" y="259.75" font-size="6.3" text-anchor="end">60</text>
<text x="223.3" y="238.91" font-size="6.3" text-anchor="end">80</text>
<text x="223.3" y="218.07" font-size="6.3" text-anchor="end">100</text>
<text x="233.5" y="336.9" font-size="6.4" text-anchor="middle">0</text>
<text x="250.28" y="336.9" font-size="6.4" text-anchor="middle">1</text>
<text x="267.06" y="336.9" font-size="6.4" text-anchor="middle">2</text>
<text x="283.84" y="336.9" font-size="6.4" text-anchor="middle">3</text>
<text x="300.62" y="336.9" font-size="6.4" text-anchor="middle">4</text>
<text x="317.4" y="336.9" font-size="6.4" text-anchor="middle">5</text>
<text x="275.4" y="349.19" font-size="8.3" text-anchor="middle" textLength="15.7" lengthAdjust="spacingAndGlyphs">Years</text>
<text x="0" y="0" font-size="8.8" text-anchor="middle" textLength="58" lengthAdjust="spacingAndGlyphs" transform="translate(207.2 267.9) rotate(-90)">Overall survival (%)</text>
<text x="275.4" y="206.2" font-size="9" text-anchor="middle" textLength="88.4" lengthAdjust="spacingAndGlyphs">Subtype: SOCS1/SGK1</text>
<text x="247.7" y="310.38" font-size="6.6" textLength="36.9" lengthAdjust="spacingAndGlyphs"><tspan font-style="italic">TP53</tspan> Mutant</text>
<text x="247.7" y="320.38" font-size="6.6" textLength="25.4" lengthAdjust="spacingAndGlyphs"><tspan font-style="italic">TP53</tspan> WT</text>
<text x="291.1" y="312.3" font-size="6.4" textLength="23.8" lengthAdjust="spacingAndGlyphs">p = 0.51</text>
<text x="226.5" y="359.38" font-size="6.6" text-anchor="end" textLength="36.4" lengthAdjust="spacingAndGlyphs"><tspan font-style="italic">TP53</tspan> Mutant</text>
<text x="226.5" y="369.38" font-size="6.6" text-anchor="end" textLength="26.1" lengthAdjust="spacingAndGlyphs"><tspan font-style="italic">TP53</tspan> WT</text>
<text x="233.5" y="359.8" font-size="6.4" text-anchor="middle">16</text>
<text x="250.28" y="359.8" font-size="6.4" text-anchor="middle">12</text>
<text x="267.06" y="359.8" font-size="6.4" text-anchor="middle">12</text>
<text x="283.84" y="359.8" font-size="6.4" text-anchor="middle">12</text>
<text x="300.62" y="359.8" font-size="6.4" text-anchor="middle">12</text>
<text x="317.4" y="359.8" font-size="6.4" text-anchor="middle">12</text>
<text x="233.5" y="369.4" font-size="6.4" text-anchor="middle">55</text>
<text x="250.28" y="369.4" font-size="6.4" text-anchor="middle">48</text>
<text x="267.06" y="369.4" font-size="6.4" text-anchor="middle">48</text>
<text x="283.84" y="369.4" font-size="6.4" text-anchor="middle">46</text>
<text x="300.62" y="369.4" font-size="6.4" text-anchor="middle">45</text>
<text x="317.4" y="369.4" font-size="6.4" text-anchor="middle">44</text>
<text x="397.9" y="322.27" font-size="6.3" text-anchor="end">0</text>
<text x="397.9" y="301.43" font-size="6.3" text-anchor="end">20</text>
<text x="397.9" y="280.59" font-size="6.3" text-anchor="end">40</text>
<text x="397.9" y="259.75" font-size="6.3" text-anchor="end">60</text>
<text x="397.9" y="238.91" font-size="6.3" text-anchor="end">80</text>
<text x="397.9" y="218.07" font-size="6.3" text-anchor="end">100</text>
<text x="408.2" y="336.9" font-size="6.4" text-anchor="middle">0</text>
<text x="425.12" y="336.9" font-size="6.4" text-anchor="middle">1</text>
<text x="442.04" y="336.9" font-size="6.4" text-anchor="middle">2</text>
<text x="458.96" y="336.9" font-size="6.4" text-anchor="middle">3</text>
<text x="475.88" y="336.9" font-size="6.4" text-anchor="middle">4</text>
<text x="492.8" y="336.9" font-size="6.4" text-anchor="middle">5</text>
<text x="450.45" y="349.19" font-size="8.3" text-anchor="middle" textLength="15.7" lengthAdjust="spacingAndGlyphs">Years</text>
<text x="0" y="0" font-size="8.8" text-anchor="middle" textLength="58" lengthAdjust="spacingAndGlyphs" transform="translate(381.8 267.9) rotate(-90)">Overall survival (%)</text>
<text x="450.45" y="206.2" font-size="9" text-anchor="middle" textLength="80.2" lengthAdjust="spacingAndGlyphs">Subtype: TET2/SGK1</text>
<text x="425" y="310.38" font-size="6.6" textLength="36.5" lengthAdjust="spacingAndGlyphs"><tspan font-style="italic">TP53</tspan> Mutant</text>
<text x="425" y="320.38" font-size="6.6" textLength="25.8" lengthAdjust="spacingAndGlyphs"><tspan font-style="italic">TP53</tspan> WT</text>
<text x="465.8" y="312" font-size="6.4" textLength="24.2" lengthAdjust="spacingAndGlyphs">p = 0.87</text>
<text x="401.5" y="359.38" font-size="6.6" text-anchor="end" textLength="36.4" lengthAdjust="spacingAndGlyphs"><tspan font-style="italic">TP53</tspan> Mutant</text>
<text x="401.5" y="369.38" font-size="6.6" text-anchor="end" textLength="26.1" lengthAdjust="spacingAndGlyphs"><tspan font-style="italic">TP53</tspan> WT</text>
<text x="408.2" y="359.8" font-size="6.4" text-anchor="middle">2</text>
<text x="425.12" y="359.8" font-size="6.4" text-anchor="middle">2</text>
<text x="442.04" y="359.8" font-size="6.4" text-anchor="middle">2</text>
<text x="458.96" y="359.8" font-size="6.4" text-anchor="middle">2</text>
<text x="475.88" y="359.8" font-size="6.4" text-anchor="middle">1</text>
<text x="492.8" y="359.8" font-size="6.4" text-anchor="middle">1</text>
<text x="408.2" y="369.4" font-size="6.4" text-anchor="middle">62</text>
<text x="425.12" y="369.4" font-size="6.4" text-anchor="middle">56</text>
<text x="442.04" y="369.4" font-size="6.4" text-anchor="middle">51</text>
<text x="458.96" y="369.4" font-size="6.4" text-anchor="middle">48</text>
<text x="475.88" y="369.4" font-size="6.4" text-anchor="middle">45</text>
<text x="492.8" y="369.4" font-size="6.4" text-anchor="middle">43</text>
<text x="54.2" y="511.07" font-size="6.3" text-anchor="end">0</text>
<text x="54.2" y="490.23" font-size="6.3" text-anchor="end">20</text>
<text x="54.2" y="469.39" font-size="6.3" text-anchor="end">40</text>
<text x="54.2" y="448.55" font-size="6.3" text-anchor="end">60</text>
<text x="54.2" y="427.71" font-size="6.3" text-anchor="end">80</text>
<text x="54.2" y="406.87" font-size="6.3" text-anchor="end">100</text>
<text x="64.3" y="525.9" font-size="6.4" text-anchor="middle">0</text>
<text x="81.2" y="524.6" font-size="6.4" text-anchor="middle">1</text>
<text x="98.1" y="524.6" font-size="6.4" text-anchor="middle">2</text>
<text x="115" y="524.6" font-size="6.4" text-anchor="middle">3</text>
<text x="131.9" y="524.6" font-size="6.4" text-anchor="middle">4</text>
<text x="148.8" y="526.4" font-size="6.4" text-anchor="middle">5</text>
<text x="104.3" y="537.89" font-size="8.3" text-anchor="middle" textLength="15.7" lengthAdjust="spacingAndGlyphs">Years</text>
<text x="0" y="0" font-size="8.8" text-anchor="middle" textLength="58" lengthAdjust="spacingAndGlyphs" transform="translate(38.1 456.7) rotate(-90)">Overall survival (%)</text>
<text x="106.6" y="395.4" font-size="9" text-anchor="middle" textLength="65" lengthAdjust="spacingAndGlyphs">Subtype: MYD88</text>
<text x="78.5" y="500.88" font-size="6.6" textLength="36.9" lengthAdjust="spacingAndGlyphs"><tspan font-style="italic">TP53</tspan> Mutant</text>
<text x="78.5" y="510.88" font-size="6.6" textLength="25.3" lengthAdjust="spacingAndGlyphs"><tspan font-style="italic">TP53</tspan> WT</text>
<text x="118.8" y="501.1" font-size="6.4" textLength="30.4" lengthAdjust="spacingAndGlyphs">p &lt; 0.0001</text>
<text x="57.3" y="548.48" font-size="6.6" text-anchor="end" textLength="36.1" lengthAdjust="spacingAndGlyphs"><tspan font-style="italic">TP53</tspan> Mutant</text>
<text x="57.6" y="558.48" font-size="6.6" text-anchor="end" textLength="25.7" lengthAdjust="spacingAndGlyphs"><tspan font-style="italic">TP53</tspan> WT</text>
<text x="64.3" y="548.9" font-size="6.4" text-anchor="middle">6</text>
<text x="81.2" y="548.9" font-size="6.4" text-anchor="middle">1</text>
<text x="98.1" y="548.9" font-size="6.4" text-anchor="middle">1</text>
<text x="115" y="548.9" font-size="6.4" text-anchor="middle">1</text>
<text x="131.9" y="548.9" font-size="6.4" text-anchor="middle">1</text>
<text x="148.8" y="548.9" font-size="6.4" text-anchor="middle">1</text>
<text x="64.3" y="558.7" font-size="6.4" text-anchor="middle">72</text>
<text x="81.2" y="558.7" font-size="6.4" text-anchor="middle">62</text>
<text x="98.1" y="558.7" font-size="6.4" text-anchor="middle">55</text>
<text x="115" y="558.7" font-size="6.4" text-anchor="middle">53</text>
<text x="131.9" y="558.7" font-size="6.4" text-anchor="middle">50</text>
<text x="148.8" y="558.7" font-size="6.4" text-anchor="middle">48</text>
<text x="223.3" y="511.07" font-size="6.3" text-anchor="end">0</text>
<text x="223.3" y="490.23" font-size="6.3" text-anchor="end">20</text>
<text x="223.3" y="469.39" font-size="6.3" text-anchor="end">40</text>
<text x="223.3" y="448.55" font-size="6.3" text-anchor="end">60</text>
<text x="223.3" y="427.71" font-size="6.3" text-anchor="end">80</text>
<text x="223.3" y="406.87" font-size="6.3" text-anchor="end">100</text>
<text x="233.5" y="524.6" font-size="6.4" text-anchor="middle">0</text>
<text x="250.35" y="524.6" font-size="6.4" text-anchor="middle">1</text>
<text x="267.2" y="524.6" font-size="6.4" text-anchor="middle">2</text>
<text x="284.05" y="524.6" font-size="6.4" text-anchor="middle">3</text>
<text x="300.9" y="524.6" font-size="6.4" text-anchor="middle">4</text>
<text x="317.75" y="524.6" font-size="6.4" text-anchor="middle">5</text>
<text x="275.4" y="537.89" font-size="8.3" text-anchor="middle" textLength="15.7" lengthAdjust="spacingAndGlyphs">Years</text>
<text x="0" y="0" font-size="8.8" text-anchor="middle" textLength="58" lengthAdjust="spacingAndGlyphs" transform="translate(207.2 456.7) rotate(-90)">Overall survival (%)</text>
<text x="275.4" y="395.4" font-size="9" text-anchor="middle" textLength="56.2" lengthAdjust="spacingAndGlyphs">Subtype: BCL2</text>
<text x="248.8" y="498.98" font-size="6.6" textLength="36.6" lengthAdjust="spacingAndGlyphs"><tspan font-style="italic">TP53</tspan> Mutant</text>
<text x="248.8" y="509.28" font-size="6.6" textLength="25.5" lengthAdjust="spacingAndGlyphs"><tspan font-style="italic">TP53</tspan> WT</text>
<text x="289.5" y="501.1" font-size="6.4" textLength="27.9" lengthAdjust="spacingAndGlyphs">p = 0.045</text>
<text x="225" y="546.88" font-size="6.6" text-anchor="end" textLength="36.5" lengthAdjust="spacingAndGlyphs"><tspan font-style="italic">TP53</tspan> Mutant</text>
<text x="224.5" y="558.18" font-size="6.6" text-anchor="end" textLength="25.2" lengthAdjust="spacingAndGlyphs"><tspan font-style="italic">TP53</tspan> WT</text>
<text x="233.5" y="548.9" font-size="6.4" text-anchor="middle">27</text>
<text x="250.35" y="548.9" font-size="6.4" text-anchor="middle">21</text>
<text x="267.2" y="548.9" font-size="6.4" text-anchor="middle">20</text>
<text x="284.05" y="548.9" font-size="6.4" text-anchor="middle">18</text>
<text x="300.9" y="548.9" font-size="6.4" text-anchor="middle">17</text>
<text x="317.75" y="548.9" font-size="6.4" text-anchor="middle">15</text>
<text x="233.5" y="558.7" font-size="6.4" text-anchor="middle">101</text>
<text x="250.35" y="558.7" font-size="6.4" text-anchor="middle">88</text>
<text x="267.2" y="558.7" font-size="6.4" text-anchor="middle">82</text>
<text x="284.05" y="558.7" font-size="6.4" text-anchor="middle">80</text>
<text x="300.9" y="558.7" font-size="6.4" text-anchor="middle">76</text>
<text x="317.75" y="558.7" font-size="6.4" text-anchor="middle">76</text>
<text x="398.2" y="511.07" font-size="6.3" text-anchor="end">0</text>
<text x="398.2" y="490.23" font-size="6.3" text-anchor="end">20</text>
<text x="398.2" y="469.39" font-size="6.3" text-anchor="end">40</text>
<text x="398.2" y="448.55" font-size="6.3" text-anchor="end">60</text>
<text x="398.2" y="427.71" font-size="6.3" text-anchor="end">80</text>
<text x="398.2" y="406.87" font-size="6.3" text-anchor="end">100</text>
<text x="408.2" y="524.6" font-size="6.4" text-anchor="middle">0</text>
<text x="425.1" y="524.6" font-size="6.4" text-anchor="middle">1</text>
<text x="442" y="524.6" font-size="6.4" text-anchor="middle">2</text>
<text x="458.9" y="524.6" font-size="6.4" text-anchor="middle">3</text>
<text x="475.8" y="524.6" font-size="6.4" text-anchor="middle">4</text>
<text x="492.7" y="524.6" font-size="6.4" text-anchor="middle">5</text>
<text x="450.55" y="537.89" font-size="8.3" text-anchor="middle" textLength="15.7" lengthAdjust="spacingAndGlyphs">Years</text>
<text x="0" y="0" font-size="8.8" text-anchor="middle" textLength="58" lengthAdjust="spacingAndGlyphs" transform="translate(382.1 456.7) rotate(-90)">Overall survival (%)</text>
<text x="450.55" y="395.4" font-size="9" text-anchor="middle" textLength="72.6" lengthAdjust="spacingAndGlyphs">Subtype: NOTCH2</text>
<text x="423.8" y="498.98" font-size="6.6" textLength="37" lengthAdjust="spacingAndGlyphs"><tspan font-style="italic">TP53</tspan> Mutant</text>
<text x="423.8" y="509.28" font-size="6.6" textLength="25.7" lengthAdjust="spacingAndGlyphs"><tspan font-style="italic">TP53</tspan> WT</text>
<text x="465.8" y="501.1" font-size="6.4" textLength="24.2" lengthAdjust="spacingAndGlyphs">p = 0.58</text>
<text x="401.5" y="548.48" font-size="6.6" text-anchor="end" textLength="36.4" lengthAdjust="spacingAndGlyphs"><tspan font-style="italic">TP53</tspan> Mutant</text>
<text x="401.5" y="558.48" font-size="6.6" text-anchor="end" textLength="25.7" lengthAdjust="spacingAndGlyphs"><tspan font-style="italic">TP53</tspan> WT</text>
<text x="408.2" y="548.9" font-size="6.4" text-anchor="middle">24</text>
<text x="425.1" y="548.9" font-size="6.4" text-anchor="middle">19</text>
<text x="442" y="548.9" font-size="6.4" text-anchor="middle">18</text>
<text x="458.9" y="548.9" font-size="6.4" text-anchor="middle">16</text>
<text x="475.8" y="548.9" font-size="6.4" text-anchor="middle">16</text>
<text x="492.7" y="548.9" font-size="6.4" text-anchor="middle">14</text>
<text x="408.2" y="558.7" font-size="6.4" text-anchor="middle">68</text>
<text x="425.1" y="558.7" font-size="6.4" text-anchor="middle">53</text>
<text x="442" y="558.7" font-size="6.4" text-anchor="middle">47</text>
<text x="458.9" y="558.7" font-size="6.4" text-anchor="middle">43</text>
<text x="475.8" y="558.7" font-size="6.4" text-anchor="middle">41</text>
<text x="492.7" y="558.7" font-size="6.4" text-anchor="middle">37</text>
<text x="7" y="16.7" font-size="11.4" textLength="8.7" lengthAdjust="spacingAndGlyphs" fill="#000" font-weight="bold">A</text>
<text x="178.9" y="16.7" font-size="11.4" textLength="7.2" lengthAdjust="spacingAndGlyphs" fill="#000" font-weight="bold">B</text>
<text x="363.4" y="16.8" font-size="11.4" textLength="7.9" lengthAdjust="spacingAndGlyphs" fill="#000" font-weight="bold">C</text>
<text x="8.9" y="194.7" font-size="11.4" textLength="8.4" lengthAdjust="spacingAndGlyphs" fill="#000" font-weight="bold">D</text>
</g>
<rect x="0.5" y="0.5" width="519" height="566" fill="none" stroke="#000" stroke-width="1.2"/>
</svg>
</body></html>
